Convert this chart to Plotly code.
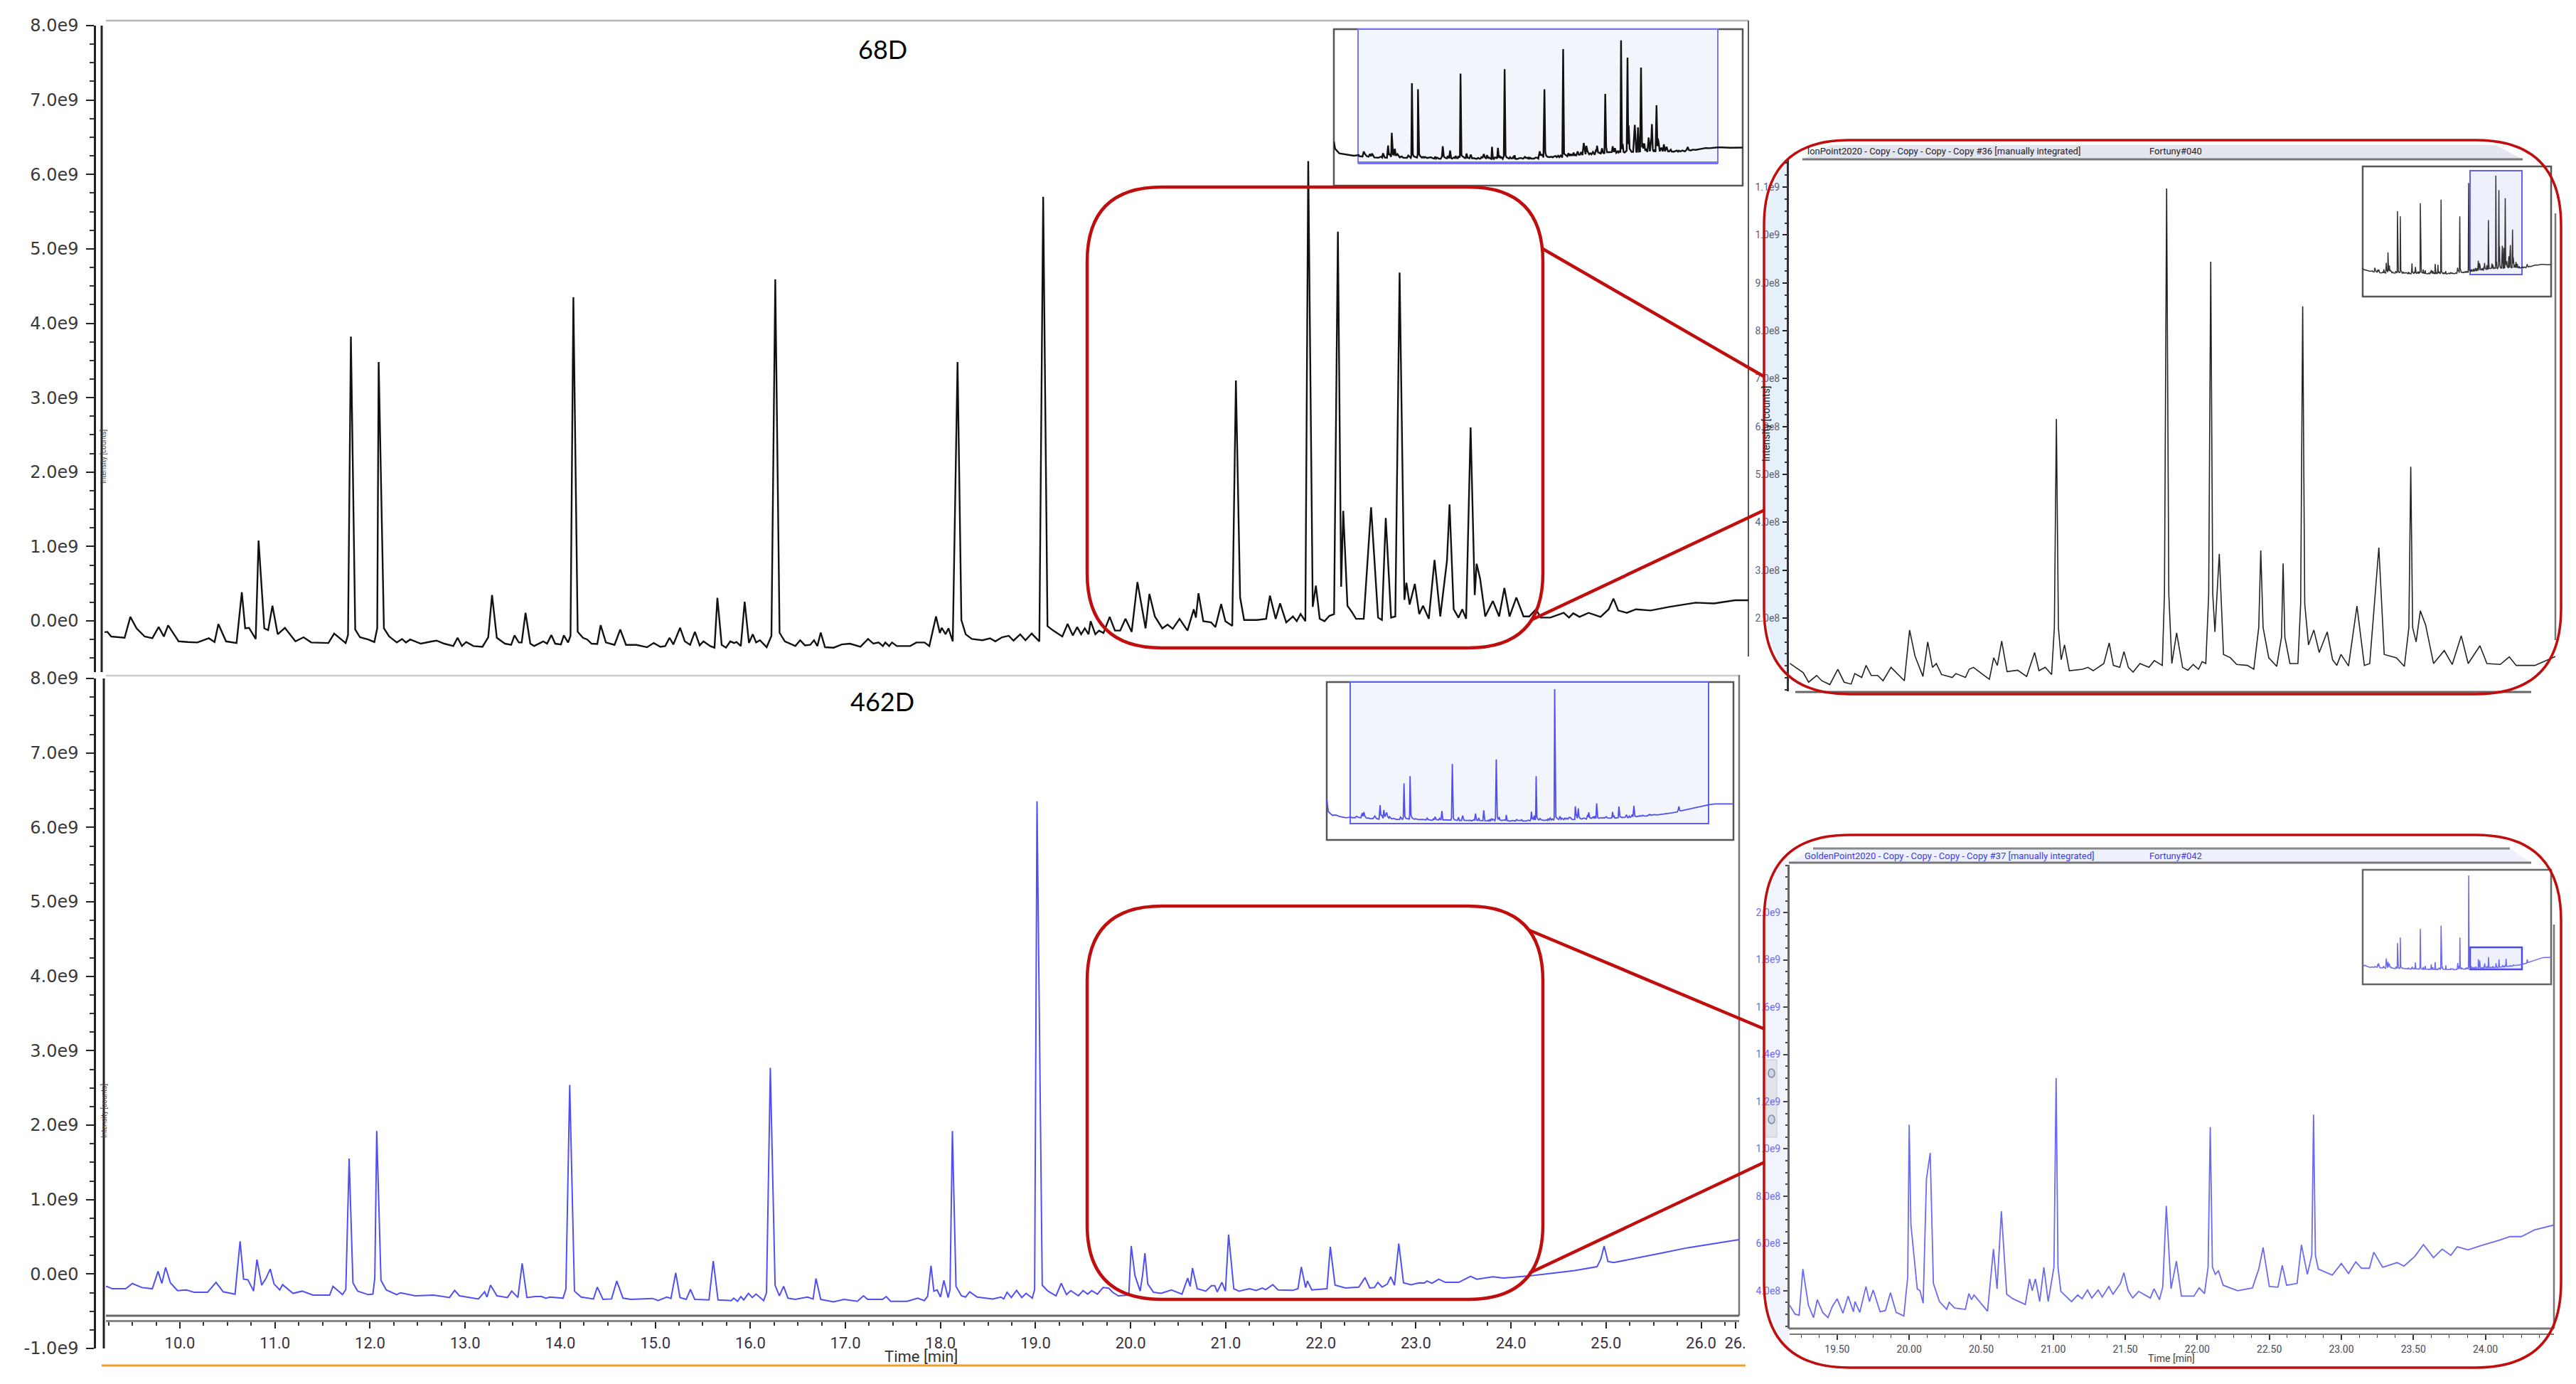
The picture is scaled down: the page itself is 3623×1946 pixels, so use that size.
import plotly.graph_objects as go

W, H = 3623, 1946

# ---------- values: time in minutes, intensity in 1e9 counts ----------
top_time = [
 8.04,8.10,8.30,8.60,9.00,9.23,9.27,9.41,9.47,9.535,9.62,9.70,9.766,9.82,9.865,9.975,10.07,10.17,10.29,10.35,
 10.39,10.47,10.58,10.635,10.67,10.71,10.78,10.81,10.87,10.91,10.955,11.01,11.085,11.195,11.28,11.36,11.54,11.60,11.72,11.745,
 11.775,11.82,11.87,11.955,12.02,12.05,12.065,12.12,12.175,12.255,12.31,12.35,12.395,12.505,12.625,12.67,12.75,12.845,12.89,12.935,
 12.98,13.055,13.15,13.21,13.25,13.30,13.385,13.45,13.485,13.53,13.56,13.60,13.65,13.69,13.785,13.825,13.87,13.91,13.97,14.0,
 14.045,14.07,14.10,14.145,14.2,14.245,14.29,14.35,14.385,14.44,14.53,14.59,14.65,14.76,14.87,14.94,15.01,15.06,15.105,15.145,
 15.215,15.265,15.32,15.37,15.42,15.46,15.53,15.575,15.605,15.65,15.695,15.74,15.78,15.805,15.85,15.89,15.935,15.975,16.01,16.05,
 16.12,16.17,16.21,16.255,16.31,16.365,16.42,16.47,16.52,16.575,16.615,16.65,16.685,16.73,16.82,16.905,16.99,17.10,17.18,17.235,
 17.29,17.335,17.36,17.40,17.43,17.48,17.62,17.685,17.77,17.82,17.89,17.93,17.95,17.99,18.02,18.065,18.115,18.155,18.20,18.265,
 18.375,18.455,18.51,18.58,18.65,18.70,18.77,18.825,18.89,18.97,19.01,19.055,19.115,19.21,19.265,19.32,19.365,19.407,19.445,19.484,
 19.506,19.555,19.594,19.64,19.705,19.76,19.815,19.87,19.935,19.995,20.08,20.12,20.177,20.255,20.31,20.364,20.435,20.518,20.584,20.606,
 20.633,20.683,20.765,20.81,20.87,20.914,20.986,21.024,21.068,21.11,21.244,21.34,21.38,21.44,21.486,21.55,21.62,21.66,21.70,21.75,
 21.78,21.827,21.86,21.90,21.95,22.0,22.05,22.09,22.124,22.146,22.19,22.234,22.28,22.36,22.437,22.51,22.55,22.59,22.646,22.69,
 22.735,22.785,22.806,22.84,22.894,22.94,22.98,23.04,23.10,23.16,23.23,23.257,23.30,23.35,23.39,23.43,23.477,23.52,23.54,23.576,
 23.63,23.71,23.775,23.83,23.884,23.955,24.03,24.09,24.16,24.21,24.31,24.45,24.505,24.55,24.615,24.71,24.835,24.92,24.97,25.02,
 25.11,25.205,25.36,25.55,25.83,26.02,26.24,26.39,26.6,27.0,27.6]
top_value = [
 0.60,0.20,-0.05,-0.10,-0.18,-0.147,-0.21,-0.227,0.054,-0.10,-0.21,-0.233,-0.083,-0.21,-0.06,-0.275,-0.284,-0.29,-0.233,-0.284,
 -0.042,-0.275,-0.297,0.385,-0.10,-0.093,-0.243,1.08,-0.10,-0.125,0.204,-0.18,-0.093,-0.275,-0.22,-0.29,-0.297,-0.17,-0.297,-0.19,
 3.82,-0.115,-0.22,-0.25,-0.284,-0.10,3.48,-0.10,-0.21,-0.29,-0.243,-0.29,-0.25,-0.306,-0.275,-0.265,-0.306,-0.338,-0.227,-0.338,
 -0.284,-0.338,-0.348,-0.22,0.347,-0.227,-0.306,-0.322,-0.195,-0.29,-0.29,0.108,-0.306,-0.338,-0.275,-0.306,-0.19,-0.306,-0.316,-0.195,
 -0.29,-0.20,4.35,-0.147,-0.227,-0.25,-0.306,-0.31,-0.058,-0.29,-0.322,-0.115,-0.322,-0.322,-0.354,-0.297,-0.348,-0.338,-0.227,-0.316,
 -0.093,-0.275,-0.322,-0.147,-0.329,-0.275,-0.338,-0.36,0.309,-0.322,-0.36,-0.275,-0.297,-0.284,-0.338,0.258,-0.297,-0.18,-0.29,-0.26,
 -0.354,-0.20,4.59,-0.16,-0.275,-0.306,-0.338,-0.26,-0.329,-0.322,-0.26,-0.338,-0.157,-0.354,-0.36,-0.316,-0.306,-0.348,-0.243,-0.306,
 -0.29,-0.338,-0.29,-0.338,-0.29,-0.338,-0.338,-0.29,-0.29,-0.338,0.06,-0.163,-0.093,-0.18,-0.10,-0.275,3.48,0.012,-0.18,-0.243,
 -0.26,-0.234,-0.275,-0.22,-0.20,-0.265,-0.18,-0.26,-0.17,-0.275,5.70,-0.07,-0.13,-0.21,-0.04,-0.195,-0.083,-0.18,-0.10,-0.18,
 -0.004,-0.18,-0.13,-0.163,0.054,-0.13,-0.13,0.028,-0.147,0.522,-0.10,0.363,0.06,-0.10,-0.05,-0.106,0.028,-0.13,0.156,0.044,
 0.372,-0.004,-0.02,-0.083,0.226,-0.004,-0.067,3.23,0.315,0.012,0.012,0.028,0.34,0.028,0.235,-0.02,0.06,-0.004,0.092,-0.004,
 6.18,0.188,0.474,0.028,-0.004,0.067,0.092,5.23,0.46,1.478,0.203,0.124,0.028,0.028,1.526,0.044,0.012,1.383,0.044,0.06,
 4.68,0.283,0.513,0.22,0.497,0.092,0.203,0.028,0.819,0.06,0.809,1.564,0.156,0.044,0.156,0.028,2.60,0.347,0.768,0.57,
 0.06,0.267,0.06,0.443,0.06,0.315,0.06,0.06,0.156,0.044,0.044,0.108,0.044,0.102,0.054,0.108,0.054,0.156,0.30,0.14,
 0.108,0.156,0.14,0.188,0.245,0.235,0.277,0.277,0.28,0.26,0.27]

bottom_time = [
 8.07,8.15,8.35,8.50,8.70,9.00,9.23,9.29,9.43,9.50,9.60,9.71,9.77,9.81,9.85,9.90,9.975,10.07,10.15,10.29,
 10.38,10.455,10.58,10.633,10.67,10.715,10.775,10.81,10.86,10.905,10.95,10.99,11.05,11.08,11.19,11.285,11.40,11.575,11.61,11.71,
 11.745,11.78,11.82,11.87,11.98,12.03,12.05,12.07,12.115,12.17,12.28,12.32,12.475,12.67,12.835,12.89,12.94,13.14,13.205,13.23,
 13.267,13.335,13.445,13.49,13.555,13.60,13.65,13.74,13.805,13.85,13.89,14.03,14.06,14.10,14.15,14.22,14.35,14.39,14.45,14.54,
 14.595,14.66,14.745,14.97,15.03,15.12,15.165,15.215,15.26,15.325,15.37,15.415,15.565,15.61,15.66,15.80,15.825,15.865,15.90,15.93,
 15.98,16.02,16.06,16.14,16.17,16.21,16.26,16.305,16.35,16.395,16.47,16.545,16.60,16.66,16.69,16.74,16.875,16.985,17.125,17.19,
 17.235,17.39,17.43,17.475,17.65,17.76,17.83,17.865,17.90,17.93,17.965,18.0,18.035,18.08,18.10,18.125,18.163,18.22,18.263,18.307,
 18.385,18.55,18.635,18.665,18.70,18.745,18.80,18.855,18.90,18.965,18.99,19.015,19.07,19.13,19.215,19.27,19.325,19.37,19.45,19.50,
 19.547,19.59,19.65,19.71,19.77,19.81,19.87,19.98,20.006,20.045,20.10,20.125,20.15,20.18,20.24,20.32,20.43,20.54,20.60,20.626,
 20.65,20.70,20.79,20.85,20.885,20.91,20.96,20.997,21.03,21.085,21.14,21.25,21.32,21.385,21.42,21.495,21.55,21.705,21.76,21.795,
 21.84,21.86,21.905,22.065,22.10,22.15,22.26,22.40,22.465,22.515,22.565,22.60,22.645,22.70,22.735,22.775,22.82,22.87,22.95,23.034,
 23.09,23.116,23.17,23.24,23.31,23.45,23.575,23.64,23.81,23.92,24.17,24.42,24.67,24.905,24.945,24.98,25.02,25.08,25.25,25.58,
 25.86,26.13,26.40,26.7,27.6]
bottom_value = [
 0.75,0.10,-0.08,-0.06,-0.14,-0.20,-0.166,-0.198,-0.198,-0.128,-0.182,-0.198,0.035,-0.125,0.089,-0.118,-0.223,-0.214,-0.246,-0.246,
 -0.112,-0.239,-0.271,0.44,-0.07,-0.077,-0.23,0.194,-0.15,-0.06,0.067,-0.134,-0.214,-0.144,-0.26,-0.23,-0.284,-0.284,-0.166,-0.277,
 -0.21,1.55,-0.118,-0.23,-0.277,-0.27,-0.05,1.92,-0.086,-0.214,-0.277,-0.252,-0.293,-0.284,-0.316,-0.22,-0.293,-0.335,-0.24,-0.31,
 -0.15,-0.293,-0.316,-0.23,-0.316,0.143,-0.316,-0.303,-0.303,-0.325,-0.31,-0.325,-0.20,2.54,-0.23,-0.31,-0.335,-0.176,-0.341,-0.335,
 -0.093,-0.325,-0.341,-0.328,-0.357,-0.31,-0.328,0.016,-0.316,-0.341,-0.207,-0.341,-0.348,0.175,-0.348,-0.357,-0.325,-0.367,-0.303,-0.348,
 -0.26,-0.316,-0.27,-0.357,-0.25,2.77,-0.15,-0.293,-0.166,-0.325,-0.341,-0.325,-0.31,-0.335,-0.06,-0.341,-0.373,-0.341,-0.367,-0.293,
 -0.341,-0.341,-0.303,-0.367,-0.367,-0.325,-0.357,-0.30,0.111,-0.23,-0.214,-0.31,-0.086,-0.316,-0.21,1.92,-0.166,-0.293,-0.31,-0.24,
 -0.31,-0.335,-0.31,-0.335,-0.245,-0.316,-0.22,-0.316,-0.26,-0.325,-0.21,6.35,-0.15,-0.23,-0.293,-0.125,-0.277,-0.223,-0.293,-0.223,
 -0.27,-0.223,-0.27,-0.182,-0.19,-0.245,-0.293,-0.284,0.376,-0.02,-0.23,-0.02,0.28,-0.134,-0.245,-0.26,-0.214,-0.27,-0.055,-0.166,
 0.079,-0.198,-0.23,-0.156,-0.156,-0.24,-0.112,-0.23,0.53,-0.198,-0.23,-0.198,-0.22,-0.188,-0.21,-0.144,-0.214,-0.22,-0.198,0.095,
 -0.182,-0.093,-0.214,-0.198,0.366,-0.15,-0.188,-0.176,-0.048,-0.188,-0.182,-0.112,-0.176,-0.134,-0.038,-0.15,0.408,-0.118,-0.144,-0.118,
 -0.122,-0.093,-0.125,-0.07,-0.112,-0.112,-0.032,-0.07,-0.038,-0.054,-0.029,0.009,0.047,0.098,0.20,0.376,0.169,0.153,0.194,0.28,
 0.353,0.408,0.462,0.50,0.50]

# close-up views: time in minutes, intensity in 1e8 counts
detail_top_time = [
 19.183,19.275,19.312,19.367,19.403,19.458,19.513,19.557,19.605,19.63,19.678,19.708,19.744,19.788,19.825,19.88,19.972,20.008,20.045,20.10,
 20.133,20.166,20.192,20.228,20.302,20.327,20.393,20.419,20.448,20.558,20.588,20.613,20.643,20.68,20.753,20.815,20.87,20.90,20.943,20.987,
 21.006,21.02,21.034,21.053,21.076,21.109,21.20,21.237,21.274,21.31,21.347,21.384,21.413,21.457,21.486,21.516,21.549,21.596,21.658,21.695,
 21.75,21.765,21.78,21.795,21.816,21.849,21.89,21.926,21.963,22.0,22.025,22.05,22.07,22.084,22.098,22.113,22.143,22.172,22.22,22.263,
 22.337,22.381,22.415,22.429,22.445,22.484,22.539,22.572,22.583,22.595,22.63,22.685,22.704,22.718,22.732,22.758,22.795,22.832,22.887,22.924,
 22.953,22.982,23.034,23.092,23.143,23.18,23.21,23.243,23.28,23.364,23.419,23.45,23.463,23.476,23.50,23.529,23.565,23.62,23.694,23.749,
 23.811,23.859,23.94,23.988,24.08,24.142,24.19,24.318,24.464]
detail_top_value = [
 1.05,0.86,0.66,0.80,0.69,0.61,0.93,0.66,0.62,0.84,0.76,1.01,0.80,0.80,0.69,0.97,0.69,1.75,1.21,0.78,
 1.50,0.97,1.05,0.82,0.76,0.84,0.76,0.93,0.97,0.72,1.17,1.01,1.52,0.88,0.91,0.78,1.28,0.90,0.97,0.82,
 1.80,6.16,1.80,1.13,1.44,0.90,0.93,0.97,0.90,0.97,1.05,1.48,1.01,0.97,1.30,0.97,0.87,1.05,0.97,1.11,
 1.01,2.50,10.97,2.50,1.05,1.69,0.97,0.91,1.03,0.93,1.09,1.05,2.50,9.44,2.50,1.71,3.34,1.24,1.17,1.03,
 1.01,0.93,1.80,3.41,1.80,1.17,0.99,1.60,3.14,1.60,1.05,1.05,2.30,8.51,2.30,1.44,1.75,1.28,1.71,1.13,
 1.01,1.24,1.00,2.25,1.01,1.05,2.21,3.47,1.24,1.17,0.99,1.80,5.16,1.80,1.50,2.15,1.86,1.05,1.32,1.03,
 1.63,1.05,1.42,1.05,1.03,1.19,1.01,1.01,1.20]

detail_bottom_time = [
 19.17,19.207,19.236,19.262,19.30,19.336,19.362,19.40,19.436,19.465,19.50,19.54,19.576,19.613,19.624,19.657,19.70,19.724,19.75,19.798,
 19.835,19.87,19.91,19.963,19.99,20.0,20.012,20.027,20.056,20.075,20.097,20.12,20.146,20.168,20.21,20.26,20.278,20.315,20.39,20.414,
 20.433,20.45,20.544,20.585,20.61,20.64,20.677,20.72,20.806,20.836,20.854,20.876,20.906,20.935,20.965,21.005,21.02,21.033,21.053,21.127,
 21.17,21.20,21.238,21.268,21.312,21.34,21.386,21.415,21.467,21.49,21.52,21.552,21.593,21.674,21.70,21.737,21.76,21.785,21.818,21.855,
 21.89,21.977,22.013,22.05,22.075,22.09,22.105,22.125,22.147,22.18,22.28,22.383,22.427,22.457,22.50,22.56,22.59,22.62,22.693,22.723,
 22.764,22.795,22.807,22.82,22.84,22.937,23.0,23.05,23.10,23.14,23.195,23.225,23.287,23.387,23.435,23.51,23.57,23.64,23.70,23.76,
 23.805,23.88,23.97,24.10,24.17,24.25,24.34,24.476]
detail_bottom_value = [
 3.39,3.01,2.96,4.92,3.39,2.86,3.62,3.08,2.86,3.31,3.66,3.05,3.77,3.11,3.54,3.08,4.18,3.54,4.03,3.11,
 3.16,3.92,3.08,2.93,4.60,11.02,6.80,5.83,4.08,4.00,3.47,8.73,9.83,4.31,3.54,3.21,3.51,3.27,3.21,3.88,
 3.62,3.82,3.13,5.76,4.08,7.36,3.85,3.66,3.42,4.50,4.00,4.50,3.54,4.99,3.54,5.00,13.0,5.00,3.97,3.54,
 3.82,3.66,4.03,3.69,4.03,3.73,4.18,3.85,4.31,4.76,4.00,3.69,3.97,3.69,4.08,3.62,4.15,7.59,4.08,5.25,
 3.77,3.77,4.12,3.88,5.00,10.92,5.00,4.69,4.84,4.23,4.00,4.12,4.92,5.83,4.18,4.15,5.07,4.23,4.31,5.94,
 4.69,5.50,11.45,5.50,4.92,4.66,5.15,4.73,5.22,4.95,4.95,5.63,4.99,5.19,5.04,5.45,5.95,5.40,5.76,5.50,
 5.86,5.73,5.91,6.14,6.29,6.29,6.57,6.78]

main_y_ticks = [8, 7, 6, 5, 4, 3, 2, 1, 0]
main_y_labels = ["8.0e9", "7.0e9", "6.0e9", "5.0e9", "4.0e9", "3.0e9", "2.0e9", "1.0e9", "0.0e0"]
time_ticks = [10, 11, 12, 13, 14, 15, 16, 17, 18, 19, 20, 21, 22, 23, 24, 25, 26, 26.36]
time_labels = ["10.0", "11.0", "12.0", "13.0", "14.0", "15.0", "16.0", "17.0", "18.0", "19.0",
               "20.0", "21.0", "22.0", "23.0", "24.0", "25.0", "26.0", "26."]
detail_top_ticks = [11, 10, 9, 8, 7, 6, 5, 4, 3, 2]
detail_top_labels = ["1.1e9", "1.0e9", "9.0e8", "8.0e8", "7.0e8", "6.0e8", "5.0e8", "4.0e8", "3.0e8", "2.0e8"]
detail_bottom_ticks = [20, 18, 16, 14, 12, 10, 8, 6, 4]
detail_bottom_labels = ["2.0e9", "1.8e9", "1.6e9", "1.4e9", "1.2e9", "1.0e9", "8.0e8", "6.0e8", "4.0e8"]
detail_time_ticks = [19.5, 20, 20.5, 21, 21.5, 22, 22.5, 23, 23.5, 24]
detail_time_labels = ["19.50", "20.00", "20.50", "21.00", "21.50", "22.00", "22.50", "23.00", "23.50", "24.00"]

BLACK, BLUE, RED = "#111111", "#5050f2", "#c00d0d"
NARROW = "Liberation Sans Narrow, Roboto, sans-serif"


def fx(px):
    return px / W


def fy(py):
    return 1 - py / H


def px_path(*parts):
    """Turn a path written in page pixels into paper fractions."""
    out = []
    for p in parts:
        if isinstance(p, str):
            out.append(p)
        else:
            out.append(f"{fx(p[0]):.5f} {fy(p[1]):.5f}")
    return " ".join(out)


def rounded(x0, y0, x1, y1, r):
    return px_path("M", (x0 + r, y0), "L", (x1 - r, y0), "Q", (x1, y0), (x1, y0 + r),
                   "L", (x1, y1 - r), "Q", (x1, y1), (x1 - r, y1),
                   "L", (x0 + r, y1), "Q", (x0, y1), (x0, y1 - r),
                   "L", (x0, y0 + r), "Q", (x0, y0), (x0 + r, y0), "Z")


shapes = []


def line(x0, y0, x1, y1, color, width, layer="below"):
    shapes.append(dict(type="line", xref="paper", yref="paper", x0=fx(x0), x1=fx(x1), y0=fy(y0), y1=fy(y1),
                       line=dict(color=color, width=width), layer=layer))


def box(x0, y0, x1, y1, fill=None, color=None, width=0, layer="below"):
    shapes.append(dict(type="rect", xref="paper", yref="paper", x0=fx(x0), x1=fx(x1), y0=fy(y0), y1=fy(y1),
                       fillcolor=fill or "rgba(0,0,0,0)",
                       line=dict(color=color or "rgba(0,0,0,0)", width=width), layer=layer))


def path(d, fill=None, color=None, width=0, layer="below"):
    shapes.append(dict(type="path", xref="paper", yref="paper", path=d, fillcolor=fill or "rgba(0,0,0,0)",
                       line=dict(color=color or "rgba(0,0,0,0)", width=width), layer=layer))


fig = go.Figure()
axes = {}
count = 0


def plot(t, v, color, width, px_x, px_y, xr, yr, xa=None, ya=None):
    global count
    count += 1
    n = "" if count == 1 else str(count)
    fig.add_trace(go.Scatter(x=t, y=v, mode="lines", line=dict(color=color, width=width),
                             xaxis="x" + n, yaxis="y" + n, showlegend=False, hoverinfo="skip"))
    xd = dict(domain=[fx(px_x[0]), fx(px_x[1])], range=xr, showgrid=False, zeroline=False, visible=False,
              anchor="y" + n)
    yd = dict(domain=[fy(px_y[1]), fy(px_y[0])], range=yr, showgrid=False, zeroline=False, visible=False,
              anchor="x" + n)
    xd.update(xa or {})
    yd.update(ya or {})
    axes["xaxis" + n] = xd
    axes["yaxis" + n] = yd


def main_y(pos):
    return dict(visible=True, anchor="free", position=fx(pos), side="left", tickmode="array",
                tickvals=main_y_ticks, ticktext=main_y_labels,
                ticks="outside", ticklen=11, tickwidth=2, tickcolor="#222", showline=True, linecolor="#222",
                linewidth=2.5, ticklabelstandoff=6, tickfont=dict(family="DejaVu Sans", size=24, color="#3a3a3a"),
                minor=dict(dtick=0.25, ticks="outside", ticklen=6, tickwidth=1.5, tickcolor="#333"))


# ---------- main chromatograms ----------
plot(top_time, top_value, BLACK, 2.4, (147, 2459), (36, 945), [9.2, 26.38], [-0.688, 8], ya=main_y(133))

bot_y = main_y(133)
bot_y.update(tickvals=main_y_ticks + [-1], ticktext=main_y_labels + ["-1.0e9"])
bot_x = dict(visible=True, anchor="free", position=fy(1857), side="bottom", tickmode="array", tickvals=time_ticks,
             ticktext=time_labels, ticks="outside", ticklen=9, tickwidth=2, tickcolor="#222", showline=True,
             linecolor="#888", linewidth=3, ticklabelstandoff=2,
             tickfont=dict(family=NARROW, size=22, color="#3a3040"),
             minor=dict(tick0=10, dtick=0.25, ticks="outside", ticklen=5, tickwidth=1.5, tickcolor="#333"))
plot(bottom_time, bottom_value, BLUE, 2.0, (149, 2446), (954, 1896), [9.222, 26.40], [-1, 8], xa=bot_x, ya=bot_y)

# ---------- overview insets of the main chromatograms ----------
box(1876, 41, 2451, 261, "#ffffff", "#555555", 2.5)
box(1910, 41, 2416, 229, "#f2f5fb", "#7474f5", 2)
line(1910, 229, 2416, 229, "#7474f5", 4)
plot(top_time, top_value, BLACK, 2.4, (1876, 2451), (41, 261), [8.04, 27.6], [-1.83, 6.8])

box(1866, 959, 2438, 1181, "#ffffff", "#555555", 2.5)
box(1899, 959, 2403, 1158, "#f2f5fb", "#6060f0", 2)
plot(bottom_time, bottom_value, BLUE, 1.8, (1866, 2438), (959, 1181), [8.07, 27.6], [-1.33, 6.71])

# ---------- right-hand close-up, 68D ----------
path(px_path("M", (2516, 222), "Q", (2490, 250), (2481, 317), "L", (2481, 856), "Q", (2490, 920), (2516, 951), "Z"),
     "#e6f0fb")
path(px_path("M", (2575, 204), "L", (3510, 204), "L", (3548, 224), "L", (2535, 224), "Z"), "#e3e6ee")
line(2535, 224, 3548, 224, "#777777", 3)
line(3594, 300, 3594, 900, "#777777", 2.5)
line(2525, 973, 3560, 973, "#666666", 3)
top_detail_y = dict(visible=True, anchor="x5", side="left", tickmode="array", tickvals=detail_top_ticks,
                    ticktext=detail_top_labels, ticks="outside", ticklen=6, tickwidth=1.5, tickcolor="#222",
                    showline=True, linecolor="#333", linewidth=3, ticklabelstandoff=1,
                    tickfont=dict(family=NARROW, size=14, color="#5b5f73"),
                    minor=dict(dtick=0.25, ticks="outside", ticklen=3, tickwidth=1.5, tickcolor="#333"))
plot(detail_top_time, detail_top_value, "#222222", 1.6, (2516, 3594), (224, 972), [19.176, 24.46], [0.47, 11.58],
     ya=top_detail_y)

box(3323, 234, 3588, 417, "#ffffff", "#555555", 2.5)
box(3474, 240, 3547, 386, "#eef0fb", "#6060f0", 2)
plot(top_time, top_value, "#333333", 1.5, (3323, 3588), (234, 417), [8.24, 27.4], [-1.86, 6.8])

# ---------- right-hand close-up, 462D ----------
path(px_path("M", (2516, 1199), "Q", (2490, 1227), (2481, 1294), "L", (2481, 1803), "Q", (2490, 1867), (2516, 1898), "Z"),
     "#f1f4fc")
path(px_path("M", (2550, 1193), "L", (3530, 1193), "L", (3560, 1213), "L", (2516, 1213), "Z"), "#eef1fb")
line(2550, 1193, 3530, 1193, "#888888", 3)
line(2516, 1213, 3560, 1213, "#777777", 3)
line(3592, 1300, 3592, 1868, "#777777", 2.5)
line(2516, 1868, 3592, 1868, "#777777", 3)
box(2484, 1490, 2499, 1599, "#e2e4ea", "#c4c8d0", 1)
for cy in (1509, 1574):
    shapes.append(dict(type="circle", xref="paper", yref="paper", x0=fx(2487), x1=fx(2496), y0=fy(cy + 6), y1=fy(cy - 6),
                       fillcolor="#cdd6e6", line=dict(color="#7a8aa0", width=1.5), layer="below"))
bottom_detail_y = dict(visible=True, anchor="x7", side="left", tickmode="array", tickvals=detail_bottom_ticks,
                       ticktext=detail_bottom_labels, ticks="outside", ticklen=6, tickwidth=1.5, tickcolor="#444",
                       showline=True, linecolor="#666", linewidth=3, ticklabelstandoff=1,
                       tickfont=dict(family=NARROW, size=14, color="#6a6af8"),
                       minor=dict(dtick=0.5, ticks="outside", ticklen=3, tickwidth=1.5, tickcolor="#444"))
bottom_detail_x = dict(visible=True, anchor="free", position=fy(1876), side="bottom", tickmode="array",
                       tickvals=detail_time_ticks, ticktext=detail_time_labels, ticks="outside", ticklen=7,
                       tickwidth=1.5, tickcolor="#333", showline=True, linecolor="#777", linewidth=2,
                       ticklabelstandoff=1, tickfont=dict(family=NARROW, size=14, color="#4a4a55"),
                       minor=dict(tick0=19.5, dtick=0.125, ticks="outside", ticklen=4, tickwidth=1.2, tickcolor="#444"))
plot(detail_bottom_time, detail_bottom_value, "#6a6af2", 1.8, (2517, 3592), (1216, 1868), [19.17, 24.476], [2.40, 22.02],
     xa=bottom_detail_x, ya=bottom_detail_y)

box(3323, 1223, 3588, 1384, "#ffffff", "#666666", 2.5)
box(3474, 1332, 3547, 1363, "#eef0fb", "#4a4af0", 2.5)
plot(bottom_time, bottom_value, "#6a6af2", 1.5, (3323, 3588), (1223, 1384), [8.24, 27.4], [-1.41, 6.76])

# ---------- frames of the main plots ----------
line(149, 29, 2459, 29, "#b8b8b8", 2.5)
line(2459, 29, 2459, 923, "#555555", 2)
line(143, 36, 143, 945, "#222222", 3)
line(149, 950, 2446, 950, "#cccccc", 2.5)
line(2446, 949, 2446, 1850, "#777777", 2.5)
line(146, 954, 146, 1896, "#222222", 3)
line(149, 1850, 2446, 1850, "#666666", 3)
line(143, 1920, 2455, 1920, "#f0a030", 3)

# ---------- red call-outs ----------
path(rounded(1529, 263, 2170, 911, 105), None, RED, 4.5, "above")
path(rounded(1529, 1274, 2170, 1827, 105), None, RED, 4.5, "above")
path(rounded(2481, 197, 3602, 976, 120), None, RED, 3.5, "above")
path(rounded(2481, 1174, 3602, 1923, 120), None, RED, 3.5, "above")
line(2170, 350, 2482, 530, RED, 4.5, "above")
line(2153, 872, 2482, 717, RED, 4.5, "above")
line(2151, 1308, 2482, 1447, RED, 4.5, "above")
line(2151, 1790, 2482, 1634, RED, 4.5, "above")


def text(x, y, s, size, color, family=NARROW, angle=0, anchor="center"):
    return dict(xref="paper", yref="paper", x=fx(x), y=fy(y), text=s, showarrow=False, textangle=angle,
                xanchor=anchor, yanchor="middle", font=dict(family=family, size=size, color=color))


annotations = [
    text(1241, 69, "68D", 36, "#000000", "Lato"),
    text(1241, 986, "462D", 36, "#000000", "Lato"),
    text(1295, 1907, "Time [min]", 22, "#333333"),
    text(145, 642, "Intensity [counts]", 10, "#444444", angle=-90),
    text(146, 1562, "Intensity [counts]", 10, "#444444", angle=-90),
    text(2540, 213, "lonPoint2020 - Copy - Copy - Copy - Copy #36 [manually integrated]", 13, "#1c1c2c", anchor="left"),
    text(3060, 213, "Fortuny#040", 13, "#1c1c2c"),
    text(2484, 596, "Intensity [counts]", 14, "#222222", angle=-90),
    text(2536, 1203, "GoldenPoint2020 - Copy - Copy - Copy - Copy #37 [manually integrated]", 13, "#3a3af0", anchor="left"),
    text(3060, 1203, "Fortuny#042", 13, "#3a3af0"),
    text(3054, 1910, "Time [min]", 14, "#444444"),
]

fig.update_layout(width=W, height=H, autosize=False, margin=dict(l=0, r=0, t=0, b=0, autoexpand=False),
                  paper_bgcolor="#ffffff", plot_bgcolor="rgba(0,0,0,0)", showlegend=False,
                  shapes=shapes, annotations=annotations, **axes)
fig.write_html("out.html", config={"displayModeBar": False}, post_script="document.body.style.margin='0';")
